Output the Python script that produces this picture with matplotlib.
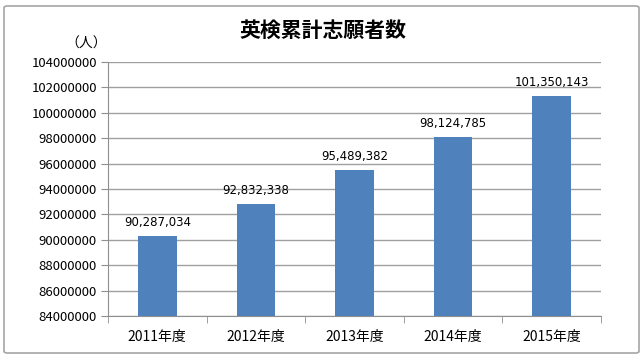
import matplotlib
matplotlib.use("Agg")
from matplotlib import pyplot as plt
from matplotlib.patches import FancyBboxPatch

plt.rcParams['font.family'] = ['Noto Sans CJK JP', 'DejaVu Sans']

# data
years = ['2011年度', '2012年度', '2013年度', '2014年度', '2015年度']
applicants = [90287034, 92832338, 95489382, 98124785, 101350143]
yticks = list(range(84000000, 104000001, 2000000))

W, H = 643, 357
fig = plt.figure(figsize=(W / 100, H / 100), dpi=100)

# outer border
fig.patches.append(FancyBboxPatch((4 / W, 4 / H), 1 - 8 / W, 1 - 10 / H,
                                  boxstyle='round,pad=0,rounding_size=0.005',
                                  transform=fig.transFigure, fill=False,
                                  edgecolor='#a6a6a6', linewidth=1.2))

ax = fig.add_axes([108 / W, 1 - 316 / H, (601 - 108) / W, (316 - 62) / H])
x = range(len(years))
ax.bar(x, applicants, width=0.39, color='#4f81bd', zorder=3)
ax.set_xlim(-0.5, len(years) - 0.5)
ax.set_ylim(84000000, 104000000)
ax.set_yticks(yticks)
ax.set_yticklabels([str(v) for v in yticks])
ax.set_xticks(list(x))
ax.set_xticklabels(years)
ax.grid(axis='y', color='#a0a0a0', linewidth=1, zorder=0)

for spine in ['top', 'right']:
    ax.spines[spine].set_visible(False)
ax.spines['left'].set_color('#909090')
ax.spines['bottom'].set_color('#909090')
ax.tick_params(axis='y', length=5, color='#909090', labelsize=9.5, pad=3)
ax.tick_params(axis='x', length=0, labelsize=10, pad=10)
# minor ticks between categories on x axis
ax.set_xticks([i + 0.5 for i in range(-1, len(years))], minor=True)
ax.tick_params(axis='x', which='minor', length=5, color='#909090')

for i, v in enumerate(applicants):
    ax.text(i, v + 550000, f'{v:,}', ha='center', va='bottom', fontsize=8.5,
            family=['DejaVu Sans'])

fig.text(323 / W, 1 - 30 / H, '英検累計志願者数', ha='center', va='center',
         fontsize=15, fontweight='bold')
fig.text(86 / W, 1 - 44 / H, '（人）', ha='center', va='center', fontsize=10)

fig.savefig('out.png', dpi=100)
